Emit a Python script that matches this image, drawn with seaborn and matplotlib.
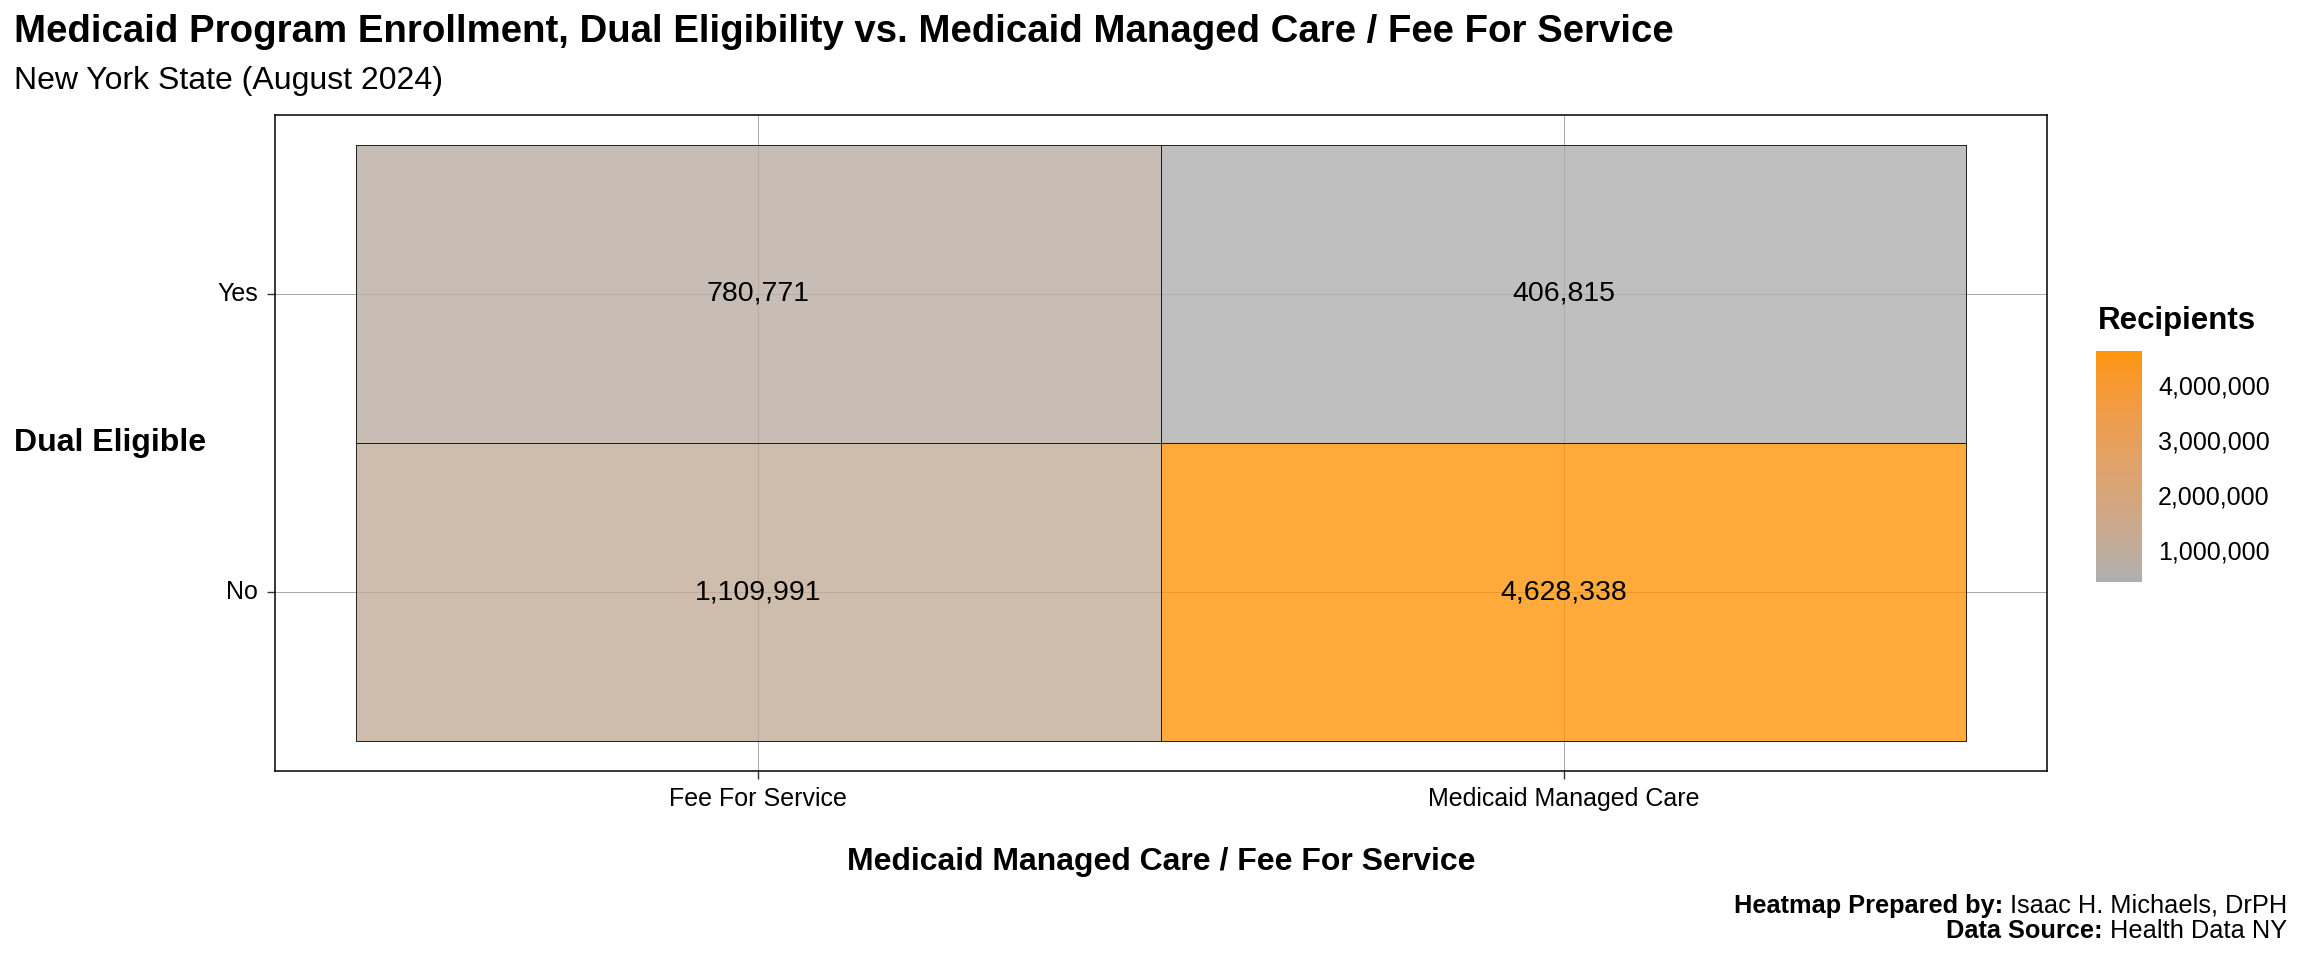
import numpy as np
import pandas as pd
import seaborn as sns
import matplotlib.pyplot as plt
from matplotlib.colors import ListedColormap, Normalize
from matplotlib.cm import ScalarMappable

sns.set_theme(style='white')
plt.rcParams['font.family'] = ['Liberation Sans', 'DejaVu Sans']
plt.rcParams['text.color'] = 'black'
plt.rcParams['axes.labelcolor'] = 'black'
plt.rcParams['xtick.color'] = 'black'
plt.rcParams['ytick.color'] = 'black'

# data
plan_types = ["Fee For Service", "Medicaid Managed Care"]
dual_eligible = ["Yes", "No"]
recipients_yes = [780771, 406815]
recipients_no = [1109991, 4628338]
legend_ticks = [1000000, 2000000, 3000000, 4000000]

df = pd.DataFrame([recipients_yes, recipients_no], index=dual_eligible, columns=plan_types)
labels = np.asarray([f"{v:,}" for v in df.values.flatten()]).reshape(df.shape)

# grey -> orange gradient, interpolated in Lab like ggplot does
M = np.array([[0.4124, 0.3576, 0.1805],
              [0.2126, 0.7152, 0.0722],
              [0.0193, 0.1192, 0.9505]])
WHITE = np.array([0.95047, 1.0, 1.08883])


def to_lab(c):
    c = np.asarray(c, float)
    lin = np.where(c <= 0.04045, c / 12.92, ((c + 0.055) / 1.055) ** 2.4)
    xyz = M @ lin / WHITE
    f = np.where(xyz > 0.008856, np.cbrt(xyz), 7.787 * xyz + 16 / 116)
    return np.array([116 * f[1] - 16, 500 * (f[0] - f[1]), 200 * (f[1] - f[2])])


def from_lab(lab):
    fy = (lab[0] + 16) / 116
    f = np.array([fy + lab[1] / 500, fy, fy - lab[2] / 200])
    xyz = np.where(f ** 3 > 0.008856, f ** 3, (f - 16 / 116) / 7.787) * WHITE
    lin = np.clip(np.linalg.inv(M) @ xyz, 0, 1)
    return np.clip(np.where(lin <= 0.0031308, 12.92 * lin, 1.055 * lin ** (1 / 2.4) - 0.055), 0, 1)


lo = to_lab(np.array([0xAF, 0xAF, 0xAF]) / 255)
hi = to_lab(np.array([0xFF, 0x95, 0x09]) / 255)
cmap = ListedColormap([from_lab(lo + (hi - lo) * t) for t in np.linspace(0, 1, 256)])
vmin, vmax = df.values.min(), df.values.max()

W, H = 2304, 960
fig = plt.figure(figsize=(W / 100, H / 100), dpi=100)
ax = fig.add_axes([275 / W, 1 - 771 / H, (2047 - 275) / W, (771 - 115) / H])

sns.heatmap(df, ax=ax, cmap=cmap, vmin=vmin, vmax=vmax, alpha=0.8,
            linewidths=0.5, linecolor='black', cbar=False,
            annot=labels, fmt='', annot_kws={"size": 20.5, "color": "black"})

ax.set_xlim(-0.1, 2.1)
ax.set_ylim(2.1, -0.1)
ax.set_xlabel('')
ax.set_ylabel('')
ax.set_xticks([0.5, 1.5], plan_types, rotation=0)
ax.set_yticks([0.5, 1.5], dual_eligible, rotation=0)
ax.tick_params(axis='both', length=5.8, width=1.0, color='#333333', labelsize=18,
               labelcolor='black')
ax.tick_params(axis='x', pad=6, bottom=True)
ax.tick_params(axis='y', pad=6.5, left=True)
ax.grid(True, color='#A8A8A8', lw=0.7)
ax.set_axisbelow(True)
for s in ax.spines.values():
    s.set_visible(True)
    s.set_color('black')
    s.set_linewidth(1.1)

# legend
cax = fig.add_axes([2096 / W, 1 - 582 / H, 46 / W, 231 / H])
sm = ScalarMappable(norm=Normalize(vmin, vmax), cmap=cmap)
cbar = fig.colorbar(sm, cax=cax, ticks=legend_ticks)
cbar.outline.set_visible(False)
cbar.ax.set_yticklabels([f"{t:,}" for t in legend_ticks])
cbar.ax.tick_params(direction='in', length=6.5, width=1, color='white', left=True, right=True,
                    labelleft=False, labelright=True, labelsize=18, labelcolor='black', pad=11.5)
fig.text(2098 / W, 1 - 329 / H, "Recipients", fontsize=22.5, fontweight='bold', va='baseline')

# titles
fig.text(14 / W, 1 - 42 / H, "Medicaid Program Enrollment, Dual Eligibility vs. Medicaid Managed Care / Fee For Service",
         fontsize=27.6, fontweight='bold', va='baseline')
fig.text(14 / W, 1 - 89 / H, "New York State (August 2024)", fontsize=23, va='baseline')
fig.text(1161 / W, 1 - 862 / H, "Medicaid Managed Care / Fee For Service",
         fontsize=23, fontweight='bold', ha='center', va='center')
fig.text(14 / W, 1 - 443 / H, "Dual Eligible", fontsize=23, fontweight='bold', ha='left', va='center')

# caption, bold lead-in + regular text, right aligned
renderer = fig.canvas.get_renderer()
for y, bold, rest in [(913, "Heatmap Prepared by: ", "Isaac H. Michaels, DrPH"),
                      (938, "Data Source: ", "Health Data NY")]:
    t = fig.text(2287 / W, 1 - y / H, rest, fontsize=18.3, ha='right', va='baseline')
    w = t.get_window_extent(renderer).width
    fig.text((2287 - w) / W, 1 - y / H, bold, fontsize=18.3, fontweight='bold', ha='right', va='baseline')

fig.savefig('out.png', dpi=100)
